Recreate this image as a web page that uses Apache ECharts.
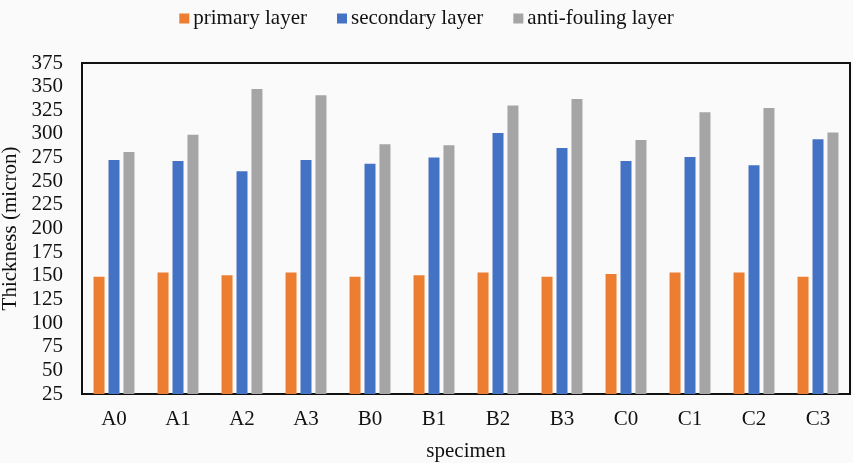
<!DOCTYPE html>
<html>
<head>
<meta charset="utf-8">
<script src="https://cdn.jsdelivr.net/npm/echarts@6/dist/echarts.min.js"></script>
<style>
html,body{margin:0;padding:0;background:#fafafa;}
#chart{width:853px;height:463px;}
</style>
</head>
<body>
<div id="chart"></div>
<script>
const categories = ['A0','A1','A2','A3','B0','B1','B2','B3','C0','C1','C2','C3'];
const primaryLayer = [149, 153.5, 150.5, 153.5, 149, 150.5, 153.5, 149, 152, 153.5, 153.5, 149];
const secondaryLayer = [272.5, 271.5, 260.5, 272.5, 268.5, 275, 301, 285, 271.5, 275.5, 267, 294.5];
const antiFoulingLayer = [281, 299, 347.5, 341, 289, 288, 330, 337, 293.5, 323, 327.5, 301.5];
const seriesNames = ['primary layer','secondary layer','anti-fouling layer'];
const yTicks = {min:25, max:375, interval:25};

const font = 'Liberation Serif';
const chart = echarts.init(document.getElementById('chart'));
chart.setOption({
  backgroundColor:'#fafafa',
  color:['#ED7D31','#4472C4','#A5A5A5'],
  textStyle:{fontFamily:font},
  legend:{
    top:3, left:'center',
    itemWidth:10, itemHeight:10, itemGap:30,
    icon:'rect',
    textStyle:{fontFamily:font, fontSize:21, color:'#111', padding:[0,0,0,-1]},
    data:seriesNames
  },
  grid:{left:82, right:3, top:63, bottom:69, show:true, borderColor:'#111', borderWidth:2, backgroundColor:'transparent', containLabel:false, outerBoundsMode:'none'},
  xAxis:{
    type:'category', data:categories,
    name:'specimen', nameLocation:'middle', nameGap:47,
    nameTextStyle:{fontFamily:font, fontSize:21, color:'#111'},
    axisTick:{show:false},
    axisLine:{show:true, lineStyle:{color:'#111', width:2}},
    axisLabel:{fontFamily:font, fontSize:21, color:'#111', margin:15}
  },
  yAxis:{
    type:'value', min:yTicks.min, max:yTicks.max, interval:yTicks.interval,
    name:'Thickness (micron)', nameLocation:'middle', nameGap:54,
    nameTextStyle:{fontFamily:font, fontSize:21, color:'#111'},
    axisLine:{show:true, lineStyle:{color:'#111', width:2}},
    axisTick:{show:false},
    splitLine:{show:false},
    axisLabel:{fontFamily:font, fontSize:21, color:'#111', margin:19}
  },
  series:[
    {name:seriesNames[0], type:'bar', data:primaryLayer, barWidth:11, barGap:'36%'},
    {name:seriesNames[1], type:'bar', data:secondaryLayer, barWidth:11, barGap:'36%'},
    {name:seriesNames[2], type:'bar', data:antiFoulingLayer, barWidth:11, barGap:'36%'}
  ]
});
</script>
</body>
</html>
